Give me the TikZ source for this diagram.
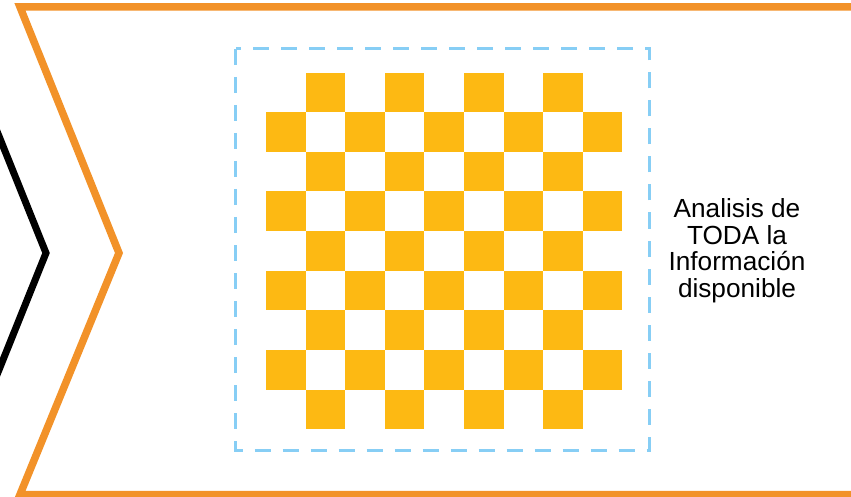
\documentclass[tikz,border=0pt]{standalone}
\usepackage{fontspec}
\setmainfont{Liberation Sans}
\usetikzlibrary{calc}
\definecolor{chevorange}{RGB}{242,146,41}
\definecolor{checkyellow}{RGB}{253,185,19}
\definecolor{dashblue}{RGB}{135,206,245}
\begin{document}
\begin{tikzpicture}[x=1pt,y=-1pt,
  chevline/.style={line width=7.5pt,line join=miter},
  sq/.style={fill=checkyellow},
  frame/.style={draw=dashblue,line width=3pt,dash pattern=on 16pt off 12pt},
  label/.style={inner sep=0pt,align=center,font=\fontsize{26.2pt}{26.7pt}\selectfont}]
\useasboundingbox (0,0) rectangle (851,497);
\clip (0,0) rectangle (851,497);
% black chevron (partly out of view)
\coordinate (bt) at (46,253);
\draw[chevline,black,line width=7pt] ($(bt)+(-140,-348)$) -- (bt) -- ($(bt)+(-140,348)$);
% orange chevron
\draw[chevline,chevorange] (20,7) -- (855,7) -- (855,494.5) -- (20,494.5) -- (119,253) -- cycle;
% checkerboard
\foreach \r in {0,...,8}{
  \foreach \c in {0,...,8}{
    \pgfmathtruncatemacro{\odd}{mod(\r+\c,2)}
    \ifnum\odd=1
      \fill[sq] (266+\c*39.6,72.7+\r*39.6) rectangle ++(39.6,39.6);
    \fi
  }
}
% dashed frame
\draw[frame] (235.5,49) rectangle (649,450);
% label
\node[label,anchor=north] (txt) at (737,198.3) {Analisis de\\TODA la\\Información\\disponible};
\end{tikzpicture}
\end{document}
